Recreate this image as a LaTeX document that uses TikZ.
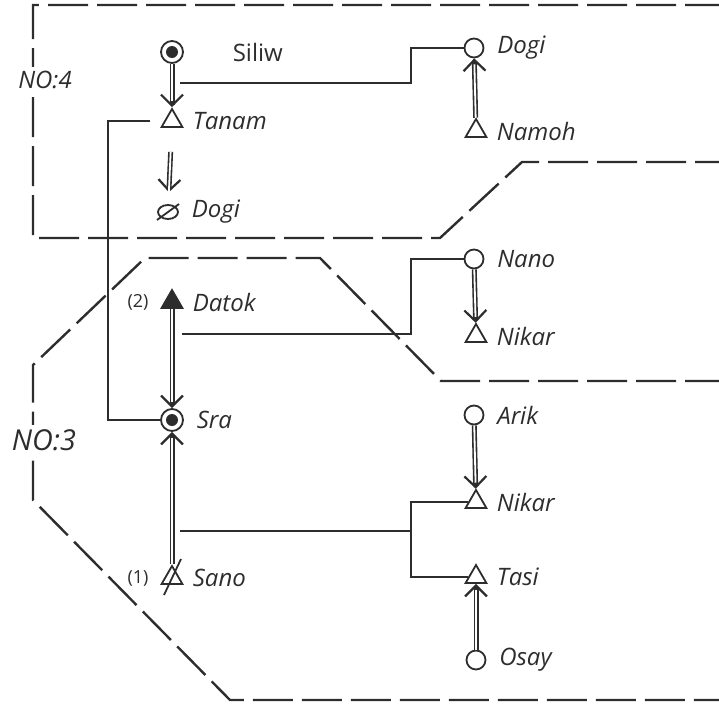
\documentclass[tikz,border=0pt]{standalone}
\usepackage{fontspec}
\setmainfont{Open Sans}
\usetikzlibrary{arrows.meta, positioning, shapes.geometric}
\definecolor{ink}{RGB}{45,45,45}

\begin{document}
\begin{tikzpicture}[x=0.5pt, y=-0.5pt, ink, line width=0.9pt,
  male/.style={draw, regular polygon, regular polygon sides=3, minimum size=12pt, inner sep=0pt},
  fem/.style={draw, circle, minimum size=9.5pt, inner sep=0pt},
  ego/.style={draw, circle, minimum size=11pt, inner sep=0pt, path picture={\fill (path picture bounding box.center) circle (3pt);}},
  txt/.style={inner sep=1pt, font=\large\itshape},
  desc/.style={line width=2.5pt, -{Straight Barb[length=5.5pt, width=11pt, line width=1.1pt]},
    postaction={draw=white, line width=0.9pt, -{}, shorten >=3pt}},
  link/.style={line width=1pt},
  group/.style={line width=1.2pt, dash pattern=on 20pt off 4.5pt}]

\useasboundingbox (0,0) rectangle (719,707);

% the two groups
\draw[group] (725,5) -- (33,5) -- (33,238) -- (440,238) -- (522,162) -- (725,162);
\draw[group] (725,381) -- (441,381) -- (320,258) -- (145,258) -- (33,365) -- (33,500) -- (230,700) -- (725,700);
\node[fill=white, inner sep=2pt, font=\large\itshape] (no4) at (45,80) {NO:4};
\node[fill=white, inner sep=2pt, font=\Large\itshape] (no3) at (44,440) {NO:3};

% left line
\node[ego] (siliw) at (172,52) {};
\node[txt, font=\large, right=23pt of siliw] (siliwT) {Siliw};
\node[male] (tanam) at (172,121) {};
\node[txt, right=5pt of tanam] (tanamT) {Tanam};
\node[fem, ellipse, minimum width=10pt, minimum height=7pt] (dogiL) at (168,212) {};
\draw ([shift={(-11,8)}]dogiL.center) -- ([shift={(11,-8)}]dogiL.center);
\node[txt, right=5pt of dogiL] (dogiLT) {Dogi};
\node[male, fill=ink] (datok) at (172,302) {};
\node[txt, right=5pt of datok] (datokT) {Datok};
\node[font=\small, left=4pt of datok] (datokN) {(2)};
\node[ego] (sra) at (172,420) {};
\node[txt, right=5pt of sra] (sraT) {Sra};
\node[male] (sano) at (172,578) {};
\draw ([shift={(-8,17)}]sano.center) -- ([shift={(9,-19)}]sano.center);
\node[txt, right=5pt of sano] (sanoT) {Sano};
\node[font=\small, left=4pt of sano] (sanoN) {(1)};

% right line
\node[fem] (dogiR) at (474,48) {};
\node[txt, right=5pt of dogiR] (dogiRT) {Dogi};
\node[male] (namoh) at (476,131) {};
\node[txt, right=5pt of namoh] (namohT) {Namoh};
\node[fem] (nano) at (474,259) {};
\node[txt, right=5pt of nano] (nanoT) {Nano};
\node[male] (nikarA) at (476,336) {};
\node[txt, right=5pt of nikarA] (nikarAT) {Nikar};
\node[fem] (arik) at (474,415) {};
\node[txt, right=5pt of arik] (arikT) {Arik};
\node[male] (nikarB) at (476,502) {};
\node[txt, right=5pt of nikarB] (nikarBT) {Nikar};
\node[male] (tasi) at (476,577) {};
\node[txt, right=5pt of tasi] (tasiT) {Tasi};
\node[fem] (osay) at (476,660) {};
\node[txt, right=5pt of osay] (osayT) {Osay};

% descent
\draw[desc] (siliw) -- coordinate[pos=0.45] (siliwM) (tanam);
\draw[desc, shorten <=12pt, shorten >=6pt] (tanam) -- (dogiL);
\draw[desc] (namoh) -- (dogiR);
\draw[desc] (datok) -- coordinate[pos=0.25] (datokM) (sra);
\draw[desc] (sano) -- coordinate[pos=0.25] (sanoM) (sra);
\draw[desc] (nano) -- (nikarA);
\draw[desc] (arik) -- (nikarB);
\draw[desc] (osay) -- (tasi);

% marriages
\draw[link] ([shift={(8,0)}]siliwM) -| ([shift={(-53,0)}]dogiR.west) -- (dogiR.west);
\draw[link] ([shift={(-14,0)}]tanam.west) -| ([shift={(-52,0)}]sra.west) -- (sra.west);
\draw[link] ([shift={(10,0)}]datokM) -| ([shift={(-53,0)}]nano.west) -- (nano.west);
\draw[link] ([shift={(8,0)}]sanoM) -| ([shift={(-57,0)}]nikarB.west) -- (nikarB.west);
\draw[link] ([shift={(-57,0)}]nikarB.west) |- (tasi.west);

\end{tikzpicture}
\end{document}
